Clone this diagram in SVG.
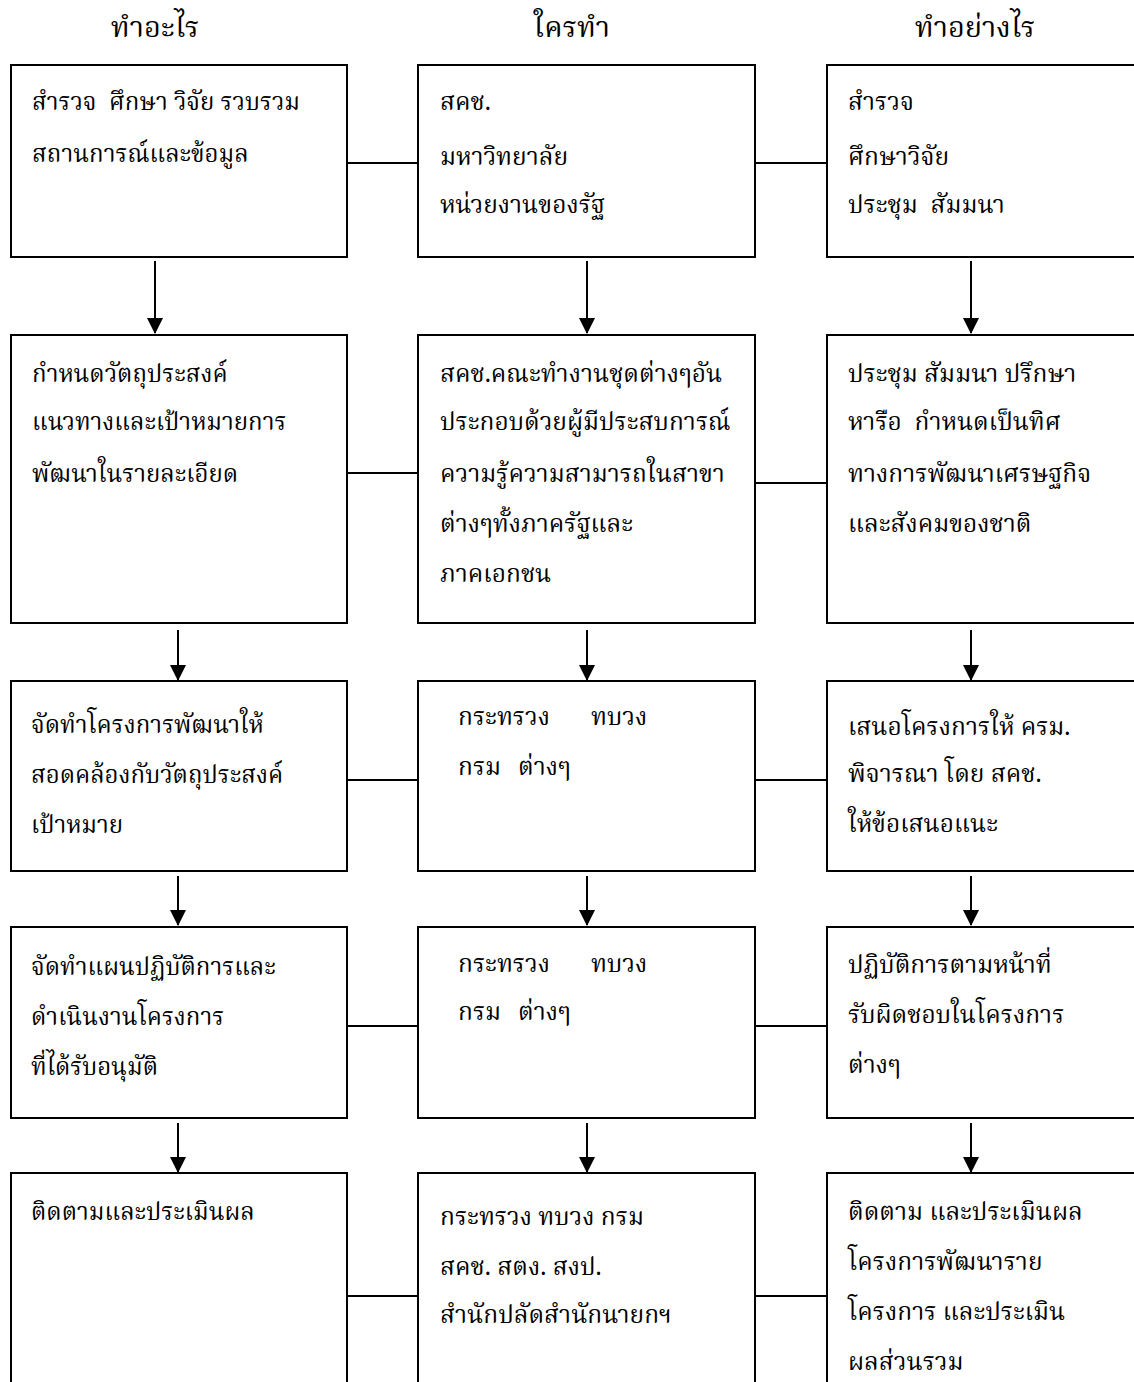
<svg xmlns="http://www.w3.org/2000/svg" width="1134" height="1382" viewBox="0 0 1134 1382">
<defs>
<marker id="ah" markerWidth="16" markerHeight="16" refX="15" refY="8" orient="auto" markerUnits="userSpaceOnUse" viewBox="0 0 16 16">
<path d="M0,0 L16,8 L0,16 Z" fill="#000"/>
</marker>
<style>
.box{fill:#fff;stroke:#000;stroke-width:2}
.ln{stroke:#000;stroke-width:2;fill:none}
.t{font-family:"Noto Serif Thai","Noto Sans Thai Looped","Noto Sans Thai","Noto Sans","DejaVu Sans",serif;font-size:24.5px;fill:#000}
.c1{font-size:24px}
.h{font-family:"Noto Serif Thai","Noto Sans Thai Looped","Noto Sans Thai","Noto Sans","DejaVu Sans",serif;font-size:29px;fill:#000;text-anchor:middle}
</style>
</defs>
<rect width="1134" height="1382" fill="#fff"/>
<g id="headers">
<text class="h" x="155" y="37">ทำอะไร</text>
<text class="h" x="572" y="37">ใครทำ</text>
<text class="h" x="975" y="37">ทำอย่างไร</text>
</g>
<g id="connectors">
<line class="ln" x1="347" y1="163" x2="418" y2="163"/>
<line class="ln" x1="755" y1="163" x2="827" y2="163"/>
<line class="ln" x1="347" y1="473" x2="418" y2="473"/>
<line class="ln" x1="755" y1="483" x2="827" y2="483"/>
<line class="ln" x1="347" y1="780" x2="418" y2="780"/>
<line class="ln" x1="755" y1="780" x2="827" y2="780"/>
<line class="ln" x1="347" y1="1026" x2="418" y2="1026"/>
<line class="ln" x1="755" y1="1026" x2="827" y2="1026"/>
<line class="ln" x1="347" y1="1296" x2="418" y2="1296"/>
<line class="ln" x1="755" y1="1296" x2="827" y2="1296"/>
<line class="ln" x1="155" y1="261" x2="155" y2="333" marker-end="url(#ah)"/>
<line class="ln" x1="587" y1="261" x2="587" y2="333" marker-end="url(#ah)"/>
<line class="ln" x1="971" y1="261" x2="971" y2="333" marker-end="url(#ah)"/>
<line class="ln" x1="178" y1="630" x2="178" y2="680" marker-end="url(#ah)"/>
<line class="ln" x1="587" y1="630" x2="587" y2="680" marker-end="url(#ah)"/>
<line class="ln" x1="971" y1="630" x2="971" y2="680" marker-end="url(#ah)"/>
<line class="ln" x1="178" y1="876" x2="178" y2="925" marker-end="url(#ah)"/>
<line class="ln" x1="587" y1="876" x2="587" y2="925" marker-end="url(#ah)"/>
<line class="ln" x1="971" y1="876" x2="971" y2="925" marker-end="url(#ah)"/>
<line class="ln" x1="178" y1="1123" x2="178" y2="1172" marker-end="url(#ah)"/>
<line class="ln" x1="587" y1="1123" x2="587" y2="1172" marker-end="url(#ah)"/>
<line class="ln" x1="971" y1="1123" x2="971" y2="1172" marker-end="url(#ah)"/>
</g>
<g id="r1c1"><rect class="box" x="11" y="65" width="336" height="192"/>
<text class="t c1" x="32" y="110" xml:space="preserve">สำรวจ  ศึกษา วิจัย รวบรวม</text>
<text class="t c1" x="32" y="162">สถานการณ์และข้อมูล</text></g>
<g id="r1c2"><rect class="box" x="418" y="65" width="337" height="192"/>
<text class="t" x="440" y="110">สคช.</text>
<text class="t" x="440" y="165">มหาวิทยาลัย</text>
<text class="t" x="440" y="213">หน่วยงานของรัฐ</text></g>
<g id="r1c3"><rect class="box" x="827" y="65" width="320" height="192"/>
<text class="t" x="848" y="110">สำรวจ</text>
<text class="t" x="848" y="165">ศึกษาวิจัย</text>
<text class="t" x="848" y="213" xml:space="preserve">ประชุม  สัมมนา</text></g>
<g id="r2c1"><rect class="box" x="11" y="335" width="336" height="288"/>
<text class="t c1" x="32" y="382">กำหนดวัตถุประสงค์</text>
<text class="t c1" x="32" y="430">แนวทางและเป้าหมายการ</text>
<text class="t c1" x="32" y="482">พัฒนาในรายละเอียด</text></g>
<g id="r2c2"><rect class="box" x="418" y="335" width="337" height="288"/>
<text class="t" x="440" y="382">สคช.คณะทำงานชุดต่างๆอัน</text>
<text class="t" x="440" y="430">ประกอบด้วยผู้มีประสบการณ์</text>
<text class="t" x="440" y="482">ความรู้ความสามารถในสาขา</text>
<text class="t" x="440" y="532">ต่างๆทั้งภาครัฐและ</text>
<text class="t" x="440" y="582">ภาคเอกชน</text></g>
<g id="r2c3"><rect class="box" x="827" y="335" width="320" height="288"/>
<text class="t" x="848" y="382">ประชุม สัมมนา ปรึกษา</text>
<text class="t" x="848" y="430" xml:space="preserve">หารือ  กำหนดเป็นทิศ</text>
<text class="t" x="848" y="482">ทางการพัฒนาเศรษฐกิจ</text>
<text class="t" x="848" y="532">และสังคมของชาติ</text></g>
<g id="r3c1"><rect class="box" x="11" y="681" width="336" height="190"/>
<text class="t c1" x="31" y="733">จัดทำโครงการพัฒนาให้</text>
<text class="t c1" x="31" y="783">สอดคล้องกับวัตถุประสงค์</text>
<text class="t c1" x="31" y="833">เป้าหมาย</text></g>
<g id="r3c2"><rect class="box" x="418" y="681" width="337" height="190"/>
<text class="t" x="458" y="725">กระทรวง</text><text class="t" x="591" y="725">ทบวง</text>
<text class="t" x="458" y="775">กรม</text><text class="t" x="518" y="775">ต่างๆ</text></g>
<g id="r3c3"><rect class="box" x="827" y="681" width="320" height="190"/>
<text class="t" x="848" y="735">เสนอโครงการให้ ครม.</text>
<text class="t" x="848" y="782">พิจารณา โดย สคช.</text>
<text class="t" x="848" y="832">ให้ข้อเสนอแนะ</text></g>
<g id="r4c1"><rect class="box" x="11" y="927" width="336" height="191"/>
<text class="t c1" x="31" y="975">จัดทำแผนปฏิบัติการและ</text>
<text class="t c1" x="31" y="1025">ดำเนินงานโครงการ</text>
<text class="t c1" x="31" y="1075">ที่ได้รับอนุมัติ</text></g>
<g id="r4c2"><rect class="box" x="418" y="927" width="337" height="191"/>
<text class="t" x="458" y="972">กระทรวง</text><text class="t" x="591" y="972">ทบวง</text>
<text class="t" x="458" y="1020">กรม</text><text class="t" x="518" y="1020">ต่างๆ</text></g>
<g id="r4c3"><rect class="box" x="827" y="927" width="320" height="191"/>
<text class="t" x="848" y="973">ปฏิบัติการตามหน้าที่</text>
<text class="t" x="848" y="1023">รับผิดชอบในโครงการ</text>
<text class="t" x="848" y="1073">ต่างๆ</text></g>
<g id="r5c1"><rect class="box" x="11" y="1173" width="336" height="220"/>
<text class="t c1" x="31" y="1220">ติดตามและประเมินผล</text></g>
<g id="r5c2"><rect class="box" x="418" y="1173" width="337" height="220"/>
<text class="t" x="440" y="1225">กระทรวง ทบวง กรม</text>
<text class="t" x="440" y="1275">สคช. สตง. สงป.</text>
<text class="t" x="440" y="1323">สำนักปลัดสำนักนายกฯ</text></g>
<g id="r5c3"><rect class="box" x="827" y="1173" width="320" height="220"/>
<text class="t" x="848" y="1220">ติดตาม และประเมินผล</text>
<text class="t" x="848" y="1270">โครงการพัฒนาราย</text>
<text class="t" x="848" y="1320">โครงการ และประเมิน</text>
<text class="t" x="848" y="1370">ผลส่วนรวม</text></g>
</svg>
